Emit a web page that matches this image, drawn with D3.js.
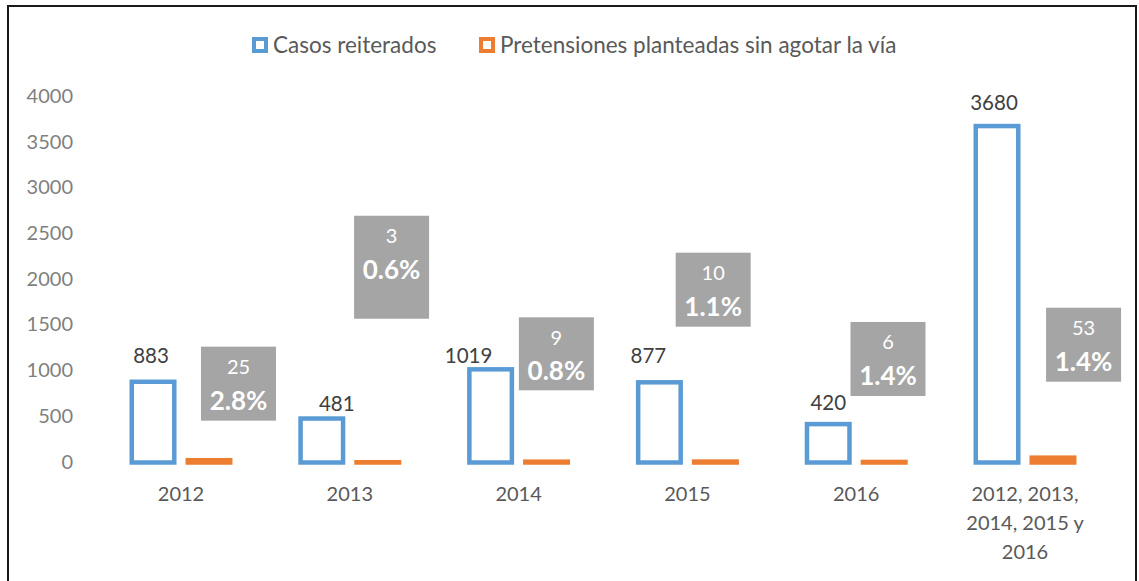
<!DOCTYPE html>
<html>
<head>
<meta charset="utf-8">
<script src="https://cdn.jsdelivr.net/npm/d3@7"></script>
<style>
  html, body { margin: 0; padding: 0; background: #fff; }
  text { font-family: Lato, "Liberation Sans", sans-serif; }
</style>
</head>
<body>
<div id="chart"></div>
<script>
// datos
const categories = ['2012', '2013', '2014', '2015', '2016', '2012, 2013, 2014, 2015 y 2016'];
const casos = [883, 481, 1019, 877, 420, 3680];
const pretensiones = [25, 3, 9, 10, 6, 53];
const porcentajes = ['2.8%', '0.6%', '0.8%', '1.1%', '1.4%', '1.4%'];
const yTicks = [0, 500, 1000, 1500, 2000, 2500, 3000, 3500, 4000];
const seriesNames = ['Casos reiterados', 'Pretensiones planteadas sin agotar la vía'];

// posiciones de etiquetas (movidas a mano en el original)
const casosLabelShift = [[-2, -26], [15, -15], [-22, -14], [-11, -26], [0, -21], [-3, -23]];
const boxTop = [1267, 2699, 1588, 2295, 1537, 1693];
const boxDx = [29.5, 13.8, 9.8, -2.2, 3.8, 30.6];
const boxH = [74, 103, 73, 74, 74, 74];

const width = 1139, height = 581;
const blue = '#5B9BD5', orange = '#ED7D31', grey = '#A5A5A5';
const sw = 4.5;

const svg = d3.select('#chart').append('svg')
    .attr('width', width)
    .attr('height', height);

// marco
svg.append('rect')
    .attr('x', 8).attr('y', 6)
    .attr('width', 1128).attr('height', 620)
    .attr('fill', 'none')
    .attr('stroke', '#1a1a1a')
    .attr('stroke-width', 2);

const x0 = d3.scaleBand()
    .domain(categories)
    .range([96.6, 1109.4])
    .paddingInner(0.39)
    .paddingOuter(0.195);

const x1 = d3.scaleBand()
    .domain([0, 1])
    .range([0, x0.bandwidth()])
    .paddingInner(0.16);

const y = d3.scaleLinear()
    .domain([0, 4000])
    .range([462.5, 96.8]);

// eje y (solo etiquetas)
svg.append('g')
    .selectAll('text')
    .data(yTicks)
    .enter()
    .append('text')
    .attr('x', 73)
    .attr('y', (d) => y(d) - 1)
    .attr('dy', '0.35em')
    .attr('text-anchor', 'end')
    .attr('font-size', 20)
    .attr('fill', '#7f7f7f')
    .text((d) => d);

// barras casos
svg.append('g')
    .selectAll('rect')
    .data(casos)
    .enter()
    .append('rect')
    .attr('x', (d, i) => x0(categories[i]) + x1(0) + sw / 2)
    .attr('y', (d) => y(d))
    .attr('width', x1.bandwidth() - sw)
    .attr('height', (d) => y(0) - y(d))
    .attr('fill', '#fff')
    .attr('stroke', blue)
    .attr('stroke-width', sw);

// barras pretensiones
svg.append('g')
    .selectAll('rect')
    .data(pretensiones)
    .enter()
    .append('rect')
    .attr('x', (d, i) => x0(categories[i]) + x1(1) + sw / 2)
    .attr('y', (d) => y(d))
    .attr('width', x1.bandwidth() - sw)
    .attr('height', (d) => y(0) - y(d))
    .attr('fill', orange)
    .attr('stroke', orange)
    .attr('stroke-width', sw);

// etiquetas casos
svg.append('g')
    .selectAll('text')
    .data(casos)
    .enter()
    .append('text')
    .attr('x', (d, i) => x0(categories[i]) + x1(0) + x1.bandwidth() / 2 + casosLabelShift[i][0])
    .attr('y', (d, i) => y(d) + casosLabelShift[i][1])
    .attr('dy', '0.35em')
    .attr('text-anchor', 'middle')
    .attr('font-size', 20.5)
    .attr('fill', '#404040')
    .text((d) => d);

// cajas grises de pretensiones
let boxes = svg.append('g')
    .selectAll('g')
    .data(pretensiones)
    .enter()
    .append('g')
    .attr('transform', (d, i) => {
        let cx = x0(categories[i]) + x1(1) + x1.bandwidth() / 2 + boxDx[i];
        return `translate(${cx}, ${y(boxTop[i])})`;
    });

boxes.append('rect')
    .attr('x', -37.5)
    .attr('y', 0)
    .attr('width', 75)
    .attr('height', (d, i) => boxH[i])
    .attr('fill', grey);

boxes.append('text')
    .attr('y', 20.5)
    .attr('dy', '0.35em')
    .attr('text-anchor', 'middle')
    .attr('font-size', 20)
    .attr('fill', '#fff')
    .text((d) => d);

boxes.append('text')
    .attr('y', 54)
    .attr('dy', '0.35em')
    .attr('text-anchor', 'middle')
    .attr('font-size', 26)
    .attr('font-weight', 'bold')
    .attr('fill', '#fff')
    .text((d, i) => porcentajes[i]);

// etiquetas de categoria (con salto de linea)
let catText = svg.append('g')
    .selectAll('text')
    .data(categories)
    .enter()
    .append('text')
    .attr('text-anchor', 'middle')
    .attr('font-size', 20)
    .attr('fill', '#595959');

catText.each(function (d) {
    let el = d3.select(this);
    let cx = x0(d) + x0.bandwidth() / 2;
    let words = d.split(' ');
    let lines = [];
    let line = [];
    let probe = el.append('tspan');
    words.forEach((w) => {
        let test = line.concat([w]).join(' ');
        probe.text(test);
        if (probe.node().getComputedTextLength() > 130 && line.length) {
            lines.push(line.join(' '));
            line = [w];
        } else {
            line.push(w);
        }
    });
    lines.push(line.join(' '));
    probe.remove();
    lines.forEach((l, k) => {
        el.append('tspan')
            .attr('x', cx)
            .attr('y', 493.5 + k * 29)
            .attr('dy', '0.35em')
            .text(l);
    });
});

// leyenda
let legendX = [252, 479];
let legend = svg.append('g')
    .selectAll('g')
    .data(seriesNames)
    .enter()
    .append('g')
    .attr('transform', (d, i) => `translate(${legendX[i]}, 45)`);

legend.append('rect')
    .attr('x', 2).attr('y', -6)
    .attr('width', 12).attr('height', 12)
    .attr('fill', '#fff')
    .attr('stroke', (d, i) => i === 0 ? blue : orange)
    .attr('stroke-width', 4);

legend.append('text')
    .attr('x', 21)
    .attr('dy', '0.35em')
    .attr('font-size', 22.5)
    .attr('fill', '#595959')
    .text((d) => d);
</script>
</body>
</html>
